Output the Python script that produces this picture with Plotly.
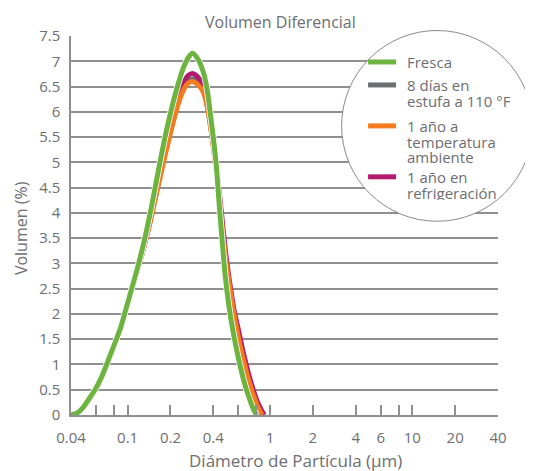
import math
import plotly.graph_objects as go

# ---------------- data (diámetro en μm, volumen en %) ----------------
fresca_x = [0.04, 0.0443, 0.0490, 0.0538, 0.0593, 0.0653, 0.0716, 0.0797, 0.0888, 0.0978,
            0.1078, 0.1188, 0.1309, 0.1442, 0.1563, 0.1695, 0.1838, 0.1993, 0.2161, 0.2343,
            0.2498, 0.2665, 0.2858, 0.3134, 0.3414, 0.3625, 0.3804, 0.3994, 0.4192, 0.4400,
            0.4619, 0.4849, 0.5172, 0.5548, 0.5984, 0.6519, 0.7035, 0.7663, 0.8070]
fresca_y = [0, 0.04, 0.16, 0.33, 0.51, 0.74, 1.02, 1.36, 1.71, 2.12,
            2.54, 2.97, 3.45, 4.00, 4.51, 5.03, 5.52, 5.96, 6.35, 6.69,
            6.91, 7.07, 7.16, 7.03, 6.77, 6.43, 5.98, 5.50, 4.95, 4.16,
            3.43, 2.75, 2.12, 1.60, 1.14, 0.70, 0.39, 0.11, 0]

curve_x = [0.04, 0.0443, 0.0490, 0.0538, 0.0593, 0.0653, 0.0716, 0.0797, 0.0888, 0.0978,
           0.1078, 0.1188, 0.1309, 0.1442, 0.1563, 0.1695, 0.1838, 0.1993, 0.2161, 0.2343,
           0.2498, 0.2665, 0.2858, 0.3134, 0.3414, 0.3625, 0.3804, 0.3994, 0.4192, 0.4400,
           0.4619, 0.4849, 0.5090, 0.5343, 0.5609, 0.5984, 0.6487, 0.7035, 0.7626, 0.8268]

ambiente_x = curve_x + [0.8819]
ambiente_y = [0, 0.04, 0.15, 0.31, 0.49, 0.72, 1.0, 1.35, 1.71, 2.12,
              2.52, 2.92, 3.36, 3.84, 4.28, 4.72, 5.15, 5.56, 5.95, 6.28,
              6.46, 6.57, 6.60, 6.53, 6.38, 6.10, 5.75, 5.32, 4.85, 4.30,
              3.70, 3.15, 2.72, 2.33, 1.97, 1.55, 1.10, 0.72, 0.40, 0.14, 0]

estufa_x = curve_x + [0.8819]
estufa_y = [0, 0.04, 0.15, 0.32, 0.50, 0.73, 1.01, 1.35, 1.71, 2.12,
            2.53, 2.94, 3.40, 3.90, 4.35, 4.80, 5.22, 5.62, 6.00, 6.32,
            6.50, 6.61, 6.65, 6.57, 6.41, 6.12, 5.76, 5.33, 4.85, 4.28,
            3.67, 3.10, 2.66, 2.27, 1.91, 1.50, 1.06, 0.69, 0.38, 0.13, 0]

refrig_x = curve_x + [0.9110]
refrig_y = [0, 0.04, 0.15, 0.31, 0.49, 0.72, 1.0, 1.35, 1.71, 2.12,
            2.52, 2.92, 3.36, 3.84, 4.30, 4.76, 5.22, 5.66, 6.05, 6.38,
            6.60, 6.72, 6.76, 6.68, 6.52, 6.22, 5.86, 5.42, 4.95, 4.42,
            3.85, 3.28, 2.82, 2.42, 2.06, 1.70, 1.24, 0.84, 0.50, 0.22, 0]

series_names = ["Fresca", "8 días en estufa a 110 °F", "1 año a temperatura ambiente", "1 año en refrigeración"]
legend_lines = [["Fresca"], ["8 días en", "estufa a 110 °F"], ["1 año a", "temperatura", "ambiente"],
                ["1 año en", "refrigeración"]]
colors = ["#6db33f", "#6d6e71", "#f47b20", "#b31b6e"]

x_tickvals = [0.04, 0.06, 0.08, 0.1, 0.2, 0.4, 0.6, 0.8, 1, 2, 4, 6, 8, 10, 20, 40]
x_ticktext = ["0.04", "", "", "0.1", "0.2", "0.4", "", "", "1", "2", "4", "6", "", "10", "20", "40"]
y_tickvals = [i * 0.5 for i in range(16)]
y_ticktext = [("%g" % v) for v in y_tickvals]

# ---------------- layout constants (figure pixels) ----------------
W, H = 525, 463
L, R, T, B = 62.7, 35, 28, 55.5
GRAY = "#6d6e71"
GRID = "#8f8f8f"
FONT = "Open Sans"
pw, ph = W - L - R, H - T - B


def px(xp):
    return (xp - L) / pw


def py(yp):
    return (H - B - yp) / ph


fig = go.Figure()

spl = dict(width=5, shape="spline", smoothing=1.0)
# draw order: gray, magenta, orange, green (on top)
fig.add_trace(go.Scatter(x=estufa_x, y=estufa_y, mode="lines", name=series_names[1],
                         line=dict(color=colors[1], **spl)))
fig.add_trace(go.Scatter(x=refrig_x, y=refrig_y, mode="lines", name=series_names[3],
                         line=dict(color=colors[3], **spl)))
fig.add_trace(go.Scatter(x=ambiente_x, y=ambiente_y, mode="lines", name=series_names[2],
                         line=dict(color=colors[2], **spl)))
fig.add_trace(go.Scatter(x=fresca_x, y=fresca_y, mode="lines", name=series_names[0] + " borde",
                         line=dict(color="white", width=6.5, shape="spline", smoothing=1.0),
                         hoverinfo="skip"))
fig.add_trace(go.Scatter(x=fresca_x, y=fresca_y, mode="lines", name=series_names[0],
                         line=dict(color=colors[0], **spl)))

shapes = []
annotations = []

# legend circle
cx, cy, r = 429, 118, 95.5
shapes.append(dict(type="circle", xref="paper", yref="paper",
                   x0=px(cx - r), x1=px(cx + r), y0=py(cy + r), y1=py(cy - r),
                   line=dict(color="#8a8a8a", width=1), fillcolor="white", layer="above"))

entry_y = [54, 77, 118, 169]
line_h = 15.4
for yy, col, lines in zip(entry_y, colors, legend_lines):
    shapes.append(dict(type="line", xref="paper", yref="paper",
                       x0=px(360), x1=px(388), y0=py(yy), y1=py(yy),
                       line=dict(color=col, width=5), layer="above"))
    for k, txt in enumerate(lines):
        annotations.append(dict(text=txt, xref="paper", yref="paper",
                                x=px(397), y=py(yy + k * line_h), xanchor="left", yanchor="middle",
                                height=15, valign="middle",
                                showarrow=False, font=dict(family=FONT, size=15, color=GRAY)))

# titles
annotations.append(dict(text="Volumen Diferencial", xref="paper", yref="paper",
                        x=px(272.5), y=py(14), xanchor="center", yanchor="middle",
                        showarrow=False, font=dict(family=FONT, size=16, color=GRAY)))
annotations.append(dict(text="Diámetro de Partícula (μm)", xref="paper", yref="paper",
                        x=px(287), y=py(453), xanchor="center", yanchor="middle",
                        showarrow=False, font=dict(family=FONT, size=17, color=GRAY)))
annotations.append(dict(text="Volumen (%)", xref="paper", yref="paper", textangle=-90,
                        x=px(12), y=py(220), xanchor="center", yanchor="middle",
                        showarrow=False, font=dict(family=FONT, size=16, color=GRAY)))

fig.update_layout(
    width=W, height=H, autosize=False,
    margin=dict(l=L, r=R, t=T, b=B, pad=0),
    paper_bgcolor="white", plot_bgcolor="white",
    showlegend=False,
    shapes=shapes, annotations=annotations,
    font=dict(family=FONT, color=GRAY),
    xaxis=dict(type="log", range=[math.log10(0.04), math.log10(40)],
               tickmode="array", tickvals=x_tickvals, ticktext=x_ticktext,
               ticks="inside", ticklen=10, tickwidth=1.5, tickcolor=GRID,
               showgrid=False, zeroline=False, showline=True, linecolor=GRID, linewidth=1.5,
               tickfont=dict(family=FONT, size=15, color=GRAY), ticklabelstandoff=8),
    yaxis=dict(range=[0, 7.5], tickmode="array", tickvals=y_tickvals, ticktext=y_ticktext,
               ticks="", showgrid=True, gridcolor=GRID, gridwidth=1.5, zeroline=False,
               showline=True, linecolor=GRID, linewidth=1.5,
               tickfont=dict(family=FONT, size=15, color=GRAY), ticklabelstandoff=6),
)

fig.write_html("out.html")
